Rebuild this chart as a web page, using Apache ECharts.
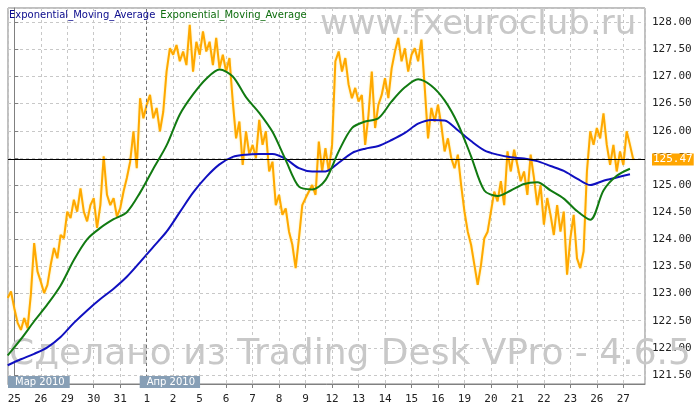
<!DOCTYPE html>
<html><head><meta charset="utf-8">
<script src="https://cdn.jsdelivr.net/npm/echarts@6/dist/echarts.min.js"></script>
<style>html,body{margin:0;padding:0;background:#fff}#c{width:698px;height:412px}</style>
</head><body><div id="c"></div>
<script>
// trading days (x index 0 = 25 March 2010)
const dayLabels = ['25','26','29','30','31','1','2','5','6','7','8','9','12','13','14','15','16','19','20','21','22','23','26','27'];
const monthStarts = [0, 5];
const monthLabels = ['Мар 2010', 'Апр 2010'];
// price sampled every 1/8 day, starting 0.25 day before 25 March
const priceStart = -0.25;
const priceStep = 0.125;
const price = [
122.92,123.04,122.73,122.46,122.33,122.55,122.36,122.98,123.93,123.41,
123.22,123.01,123.16,123.53,123.84,123.65,124.08,124.02,124.51,124.39,
124.73,124.51,124.94,124.51,124.33,124.63,124.76,124.21,124.63,125.53,
124.82,124.63,124.76,124.42,124.57,124.88,125.13,125.43,125.99,125.31,
126.60,126.23,126.48,126.66,126.23,126.42,125.99,126.35,127.09,127.52,
127.40,127.58,127.28,127.46,127.21,127.95,127.09,127.64,127.40,127.83,
127.46,127.64,127.21,127.71,127.15,127.40,127.09,127.34,126.54,125.86,
126.17,125.37,125.99,125.56,125.74,125.50,126.20,125.74,125.99,125.25,
125.43,124.63,124.82,124.45,124.57,124.14,123.90,123.47,124.02,124.63,
124.76,124.88,125.00,124.82,125.80,125.25,125.68,125.25,125.74,127.28,
127.46,127.09,127.34,126.85,126.60,126.79,126.54,126.66,125.74,126.29,
127.09,126.05,126.48,126.66,126.97,126.60,127.15,127.46,127.71,127.28,
127.52,127.09,127.40,127.52,127.28,127.68,126.79,125.86,126.42,126.17,
126.48,126.11,125.62,125.86,125.50,125.31,125.56,125.00,124.51,124.14,
123.90,123.53,123.16,123.53,124.02,124.14,124.51,124.88,124.70,125.07,
124.63,125.62,125.25,125.65,125.37,125.07,125.25,124.82,125.56,125.13,
124.63,125.00,124.27,124.76,124.45,124.08,124.63,124.14,124.51,123.35,
124.02,124.45,123.65,123.47,123.78,125.25,125.99,125.74,126.05,125.86,
126.32,125.74,125.37,125.74,125.25,125.62,125.37,125.99,125.74,125.47
];
// moving averages sampled every 1/2 day
const emaStart = -0.25;
const emaStep = 0.5;
const emaFast = [
121.86,122.16,122.49,122.80,123.15,123.62,124.00,124.21,124.37,124.50,
124.86,125.30,125.73,126.30,126.67,126.96,127.13,127.00,126.62,126.33,
125.98,125.46,124.97,124.92,125.09,125.62,126.05,126.17,126.23,126.54,
126.80,126.95,126.83,126.56,126.13,125.53,124.90,124.80,124.90,125.02,
125.05,124.90,124.75,124.52,124.36,124.90,125.17,125.30
];
const emaSlow = [
121.68,121.79,121.89,122.01,122.20,122.46,122.69,122.90,123.09,123.31,
123.58,123.86,124.14,124.50,124.86,125.15,125.38,125.52,125.56,125.57,
125.57,125.48,125.31,125.25,125.25,125.41,125.59,125.67,125.72,125.83,
125.96,126.13,126.20,126.19,126.01,125.81,125.64,125.56,125.51,125.49,
125.44,125.35,125.26,125.12,125.00,125.08,125.14,125.20
];
const lastPrice = 125.47;
const seriesName = 'Exponential_Moving_Average';

const toXY = (arr, start, step) => arr.map((v, i) => [start + i * step, v]);
const isInt = v => Math.abs(v - Math.round(v)) < 1e-6;
const onHalf = v => Math.abs(v * 2 - Math.round(v * 2)) < 1e-6;

const chart = echarts.init(document.getElementById('c'), null, {renderer: 'canvas'});
const gridCfg = {left: 8, right: 53, top: 8, bottom: 28};
const option = {
  animation: false,
  backgroundColor: '#ffffff',
  title: {
    left: 9, top: 10, padding: 0,
    text: '{b|' + seriesName + '}{g|' + seriesName + '}',
    textStyle: {fontWeight: 'normal', rich: {
      b: {color: '#0a0a8c', fontSize: 10, fontFamily: 'DejaVu Sans', fontWeight: 'normal'},
      g: {color: '#0f6e0f', fontSize: 10, fontFamily: 'DejaVu Sans', fontWeight: 'normal', padding: [0, 0, 0, 5]}
    }}
  },
  graphic: [
    {id: 'wm1', type: 'text', x: 320, y: 25, z: 1, silent: true,
     style: {text: 'www.fxeuroclub.ru', fill: '#c8c8c8', font: '34px "DejaVu Sans"', verticalAlign: 'middle'}},
    {id: 'wm2', type: 'text', x: 9, y: 355, z: 1, silent: true,
     style: {text: 'Сделано из Trading Desk VPro - 4.6.5', fill: '#c8c8c8', font: '36px "DejaVu Sans"', verticalAlign: 'middle'}}
  ],
  grid: Object.assign({show: true, borderColor: '#808080', borderWidth: 1, backgroundColor: 'transparent'}, gridCfg),
  xAxis: {
    type: 'value', min: -0.238, max: 23.818, splitNumber: 24, minInterval: 1, maxInterval: 1,
    axisLine: {show: true, lineStyle: {color: '#808080'}},
    axisTick: {show: true, length: 4, lineStyle: {color: '#808080'}},
    axisLabel: {margin: 10, color: '#222', fontFamily: 'DejaVu Sans Mono', fontSize: 11,
      showMinLabel: false, showMaxLabel: false,
      formatter: v => isInt(v) ? (dayLabels[Math.round(v)] || '') : ''},
    splitLine: {show: true, lineStyle: {color: '#c8c8c8', type: [3, 3]}}
  },
  yAxis: {
    type: 'value', position: 'right', min: 121.334, max: 128.262, splitNumber: 14,
    minInterval: 0.5, maxInterval: 0.5,
    axisLine: {show: true, lineStyle: {color: '#808080'}},
    axisTick: {show: true, length: 4, lineStyle: {color: '#808080'}},
    axisLabel: {margin: 7, color: '#222', fontFamily: 'DejaVu Sans Mono', fontSize: 11,
      showMinLabel: false, showMaxLabel: false,
      formatter: v => onHalf(v) ? v.toFixed(2) : ''},
    splitLine: {show: true, lineStyle: {color: '#c8c8c8', type: [3, 3]}}
  },
  series: [
    {
      type: 'line', name: 'price', data: toXY(price, priceStart, priceStep),
      showSymbol: false, symbol: 'none', z: 3,
      lineStyle: {color: '#ffa800', width: 2, shadowColor: 'rgba(255,225,90,0.7)', shadowBlur: 2},
      markLine: {
        silent: true, symbol: 'none', animation: false,
        data: [
          {xAxis: monthStarts[1], lineStyle: {color: '#707070', type: [3, 3], width: 1, shadowBlur: 0}, label: {show: false}},
          {yAxis: lastPrice, lineStyle: {color: '#000', type: 'solid', width: 1, shadowBlur: 0},
           label: {show: true, position: 'end', distance: 7, formatter: lastPrice.toFixed(2),
             color: '#fff', backgroundColor: '#ffa500', padding: [1, 1, 0, 1],
             fontFamily: 'DejaVu Sans Mono', fontSize: 11}}
        ]
      }
    },
    {
      type: 'line', name: seriesName, data: toXY(emaSlow, emaStart, emaStep),
      showSymbol: false, symbol: 'none', smooth: 0.3, z: 4,
      lineStyle: {color: '#1010c0', width: 2}
    },
    {
      type: 'line', name: seriesName + ' ', data: toXY(emaFast, emaStart, emaStep),
      showSymbol: false, symbol: 'none', smooth: 0.3, z: 5,
      lineStyle: {color: '#117a11', width: 2}
    }
  ]
};
chart.setOption(option);
const bottomPx = 412 - gridCfg.bottom;
chart.setOption({graphic: monthStarts.map((d, i) => ({
  id: 'month' + i, type: 'text', z: 10, silent: true,
  x: Math.max(chart.convertToPixel({xAxisIndex: 0}, d) - 7, gridCfg.left),
  y: bottomPx - 8,
  style: {text: monthLabels[i], fill: '#fff', font: '10px "DejaVu Sans"',
    backgroundColor: '#879fb6', padding: [1, 5, 1, 7], verticalAlign: 'top'}
}))});
</script>
</body></html>
